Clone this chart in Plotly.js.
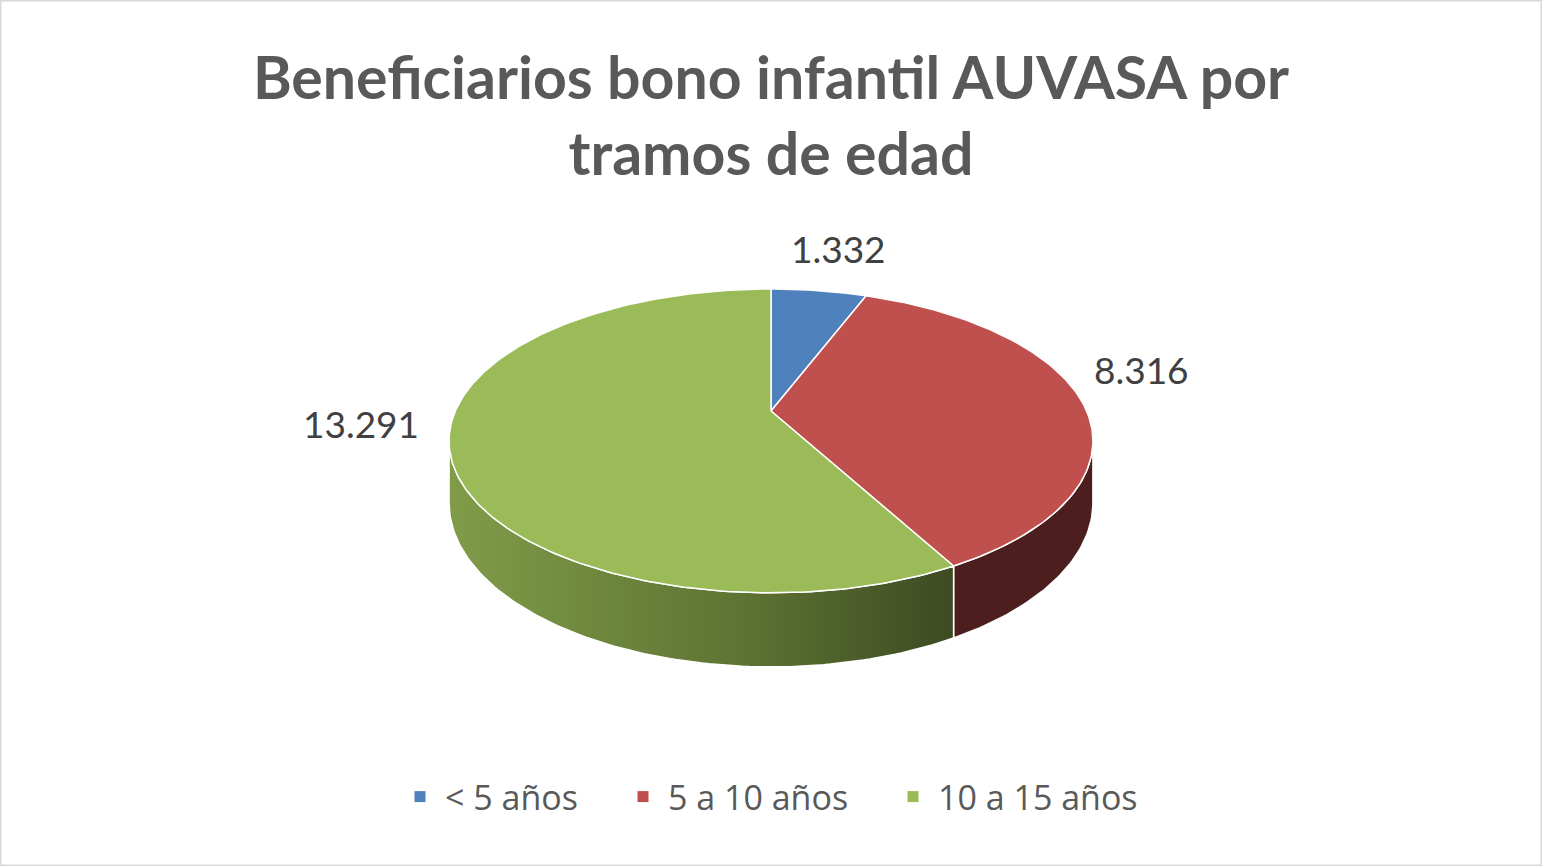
<!DOCTYPE html>
<html>
<head>
<meta charset="utf-8">
<script src="https://cdn.plot.ly/plotly-3.0.1.min.js"></script>
<style>
  html, body { margin: 0; padding: 0; background: #ffffff; }
  #chart { width: 1542px; height: 866px; }
</style>
</head>
<body>
<div id="chart"></div>
<script>
// Beneficiarios bono infantil AUVASA por tramos de edad
const categories = ['< 5 años', '5 a 10 años', '10 a 15 años'];
const beneficiarios = [1332, 8316, 13291];
const valueLabels = ['1.332', '8.316', '13.291'];

// styles
const topColors = ['#4f81bd', '#c0504d', '#9bbb59'];
const wallColors = [
    [[0, '#3a5f8c'], [1, '#233a56']],
    [[0, '#4d1e1e'], [1, '#4d1e1e']],
    [[0, '#809c49'], [0.6, '#5c7232'], [1, '#3d4a22']]
];
const labelShift = [[20, 42], [60, 32], [-89, 25]];
const legendX = [411, 634, 904];

// perspective disc: apex at (CX, CY), far edge squeezed, near edge enlarged
const CX = 771, CY = 411, R = 315.6, RE = 146, PERSP = 0.197, DEPTH = 59.5;

function rad(d) { return d * Math.PI / 180; }
function proj(deg, drop) {
    // deg measured clockwise from the far (top) point
    const X = Math.sin(rad(deg));
    const Y = -Math.cos(rad(deg));
    const w = 1 / (1 - PERSP * Y);
    return [CX + R * X * w, CY + RE * Y * w + (drop || 0) * w];
}

function arc(a, b, drop) {
    const xs = [], ys = [];
    const n = Math.max(2, Math.ceil(Math.abs(b - a)));
    for (let i = 0; i <= n; i++) {
        const p = proj(a + (b - a) * i / n, drop);
        xs.push(p[0]);
        ys.push(p[1]);
    }
    return { x: xs, y: ys };
}

const total = beneficiarios.reduce((s, v) => s + v, 0);
const slices = [];
let acc = 0;
beneficiarios.forEach(function(v) {
    const start = acc / total * 360;
    acc += v;
    slices.push({ start: start, end: acc / total * 360 });
});

// visible part of the rim: between the two widest points
const sideA = Math.acos(-PERSP) * 180 / Math.PI;
const sideB = 360 - sideA;

const traces = [];

// side walls
slices.forEach(function(s, i) {
    const a = Math.max(s.start, sideA);
    const b = Math.min(s.end, sideB);
    if (b <= a) return;
    const upper = arc(a, b, 0);
    const lower = arc(b, a, DEPTH);
    traces.push({
        type: 'scatter',
        mode: 'lines',
        x: upper.x.concat(lower.x, [upper.x[0]]),
        y: upper.y.concat(lower.y, [upper.y[0]]),
        fill: 'toself',
        fillgradient: { type: 'horizontal', colorscale: wallColors[i] },
        line: { color: '#ffffff', width: 1.5 },
        hoverinfo: 'skip',
        showlegend: false
    });
});

// top face wedges
slices.forEach(function(s, i) {
    const rim = arc(s.start, s.end, 0);
    traces.push({
        type: 'scatter',
        mode: 'lines',
        x: [CX].concat(rim.x, [CX]),
        y: [CY].concat(rim.y, [CY]),
        fill: 'toself',
        fillcolor: topColors[i],
        line: { color: '#ffffff', width: 1.5 },
        name: categories[i],
        text: valueLabels[i],
        hoverinfo: 'name+text',
        showlegend: false
    });
});

// legend entries, one legend box each so the spacing follows the original
const legendNames = ['legend', 'legend2', 'legend3'];
categories.forEach(function(c, i) {
    traces.push({
        type: 'scatter',
        mode: 'markers',
        x: [null],
        y: [null],
        name: c,
        legend: legendNames[i],
        marker: { symbol: 'square', size: 11, color: topColors[i] },
        showlegend: true
    });
});

// data labels next to the rim at each slice's mid angle
const annotations = slices.map(function(s, i) {
    const p = proj((s.start + s.end) / 2, 0);
    return {
        x: p[0],
        y: p[1],
        xref: 'x',
        yref: 'y',
        text: valueLabels[i],
        showarrow: false,
        xshift: labelShift[i][0],
        yshift: labelShift[i][1],
        font: { family: 'Lato, sans-serif', size: 37, color: '#404040' }
    };
});

function legendBox(i) {
    return {
        orientation: 'h',
        x: (legendX[i] - 16) / 1542,
        xanchor: 'left',
        y: 1 - 797 / 866,
        yanchor: 'middle',
        itemwidth: 40,
        bgcolor: 'rgba(0,0,0,0)',
        font: { family: 'Open Sans, sans-serif', size: 34, color: '#595959' },
        itemclick: false,
        itemdoubleclick: false
    };
}

const layout = {
    width: 1542,
    height: 866,
    margin: { t: 0, r: 0, b: 0, l: 0 },
    paper_bgcolor: '#ffffff',
    plot_bgcolor: '#ffffff',
    title: {
        text: '<b>Beneficiarios bono infantil AUVASA por<br>tramos de edad</b>',
        x: 0.5,
        xanchor: 'center',
        y: 0.886,
        yanchor: 'top',
        yref: 'container',
        font: { family: 'Lato, sans-serif', size: 59, color: '#595959' }
    },
    xaxis: { range: [0, 1542], visible: false, fixedrange: true },
    yaxis: { range: [866, 0], visible: false, fixedrange: true },
    showlegend: true,
    legend: legendBox(0),
    legend2: legendBox(1),
    legend3: legendBox(2),
    annotations: annotations,
    shapes: [{
        type: 'rect',
        xref: 'paper', yref: 'paper',
        x0: 0.0005, x1: 0.9995, y0: 0.001, y1: 0.999,
        line: { color: '#d9d9d9', width: 1.5 }
    }]
};

Plotly.newPlot('chart', traces, layout, { displayModeBar: false, staticPlot: true });
</script>
</body>
</html>
